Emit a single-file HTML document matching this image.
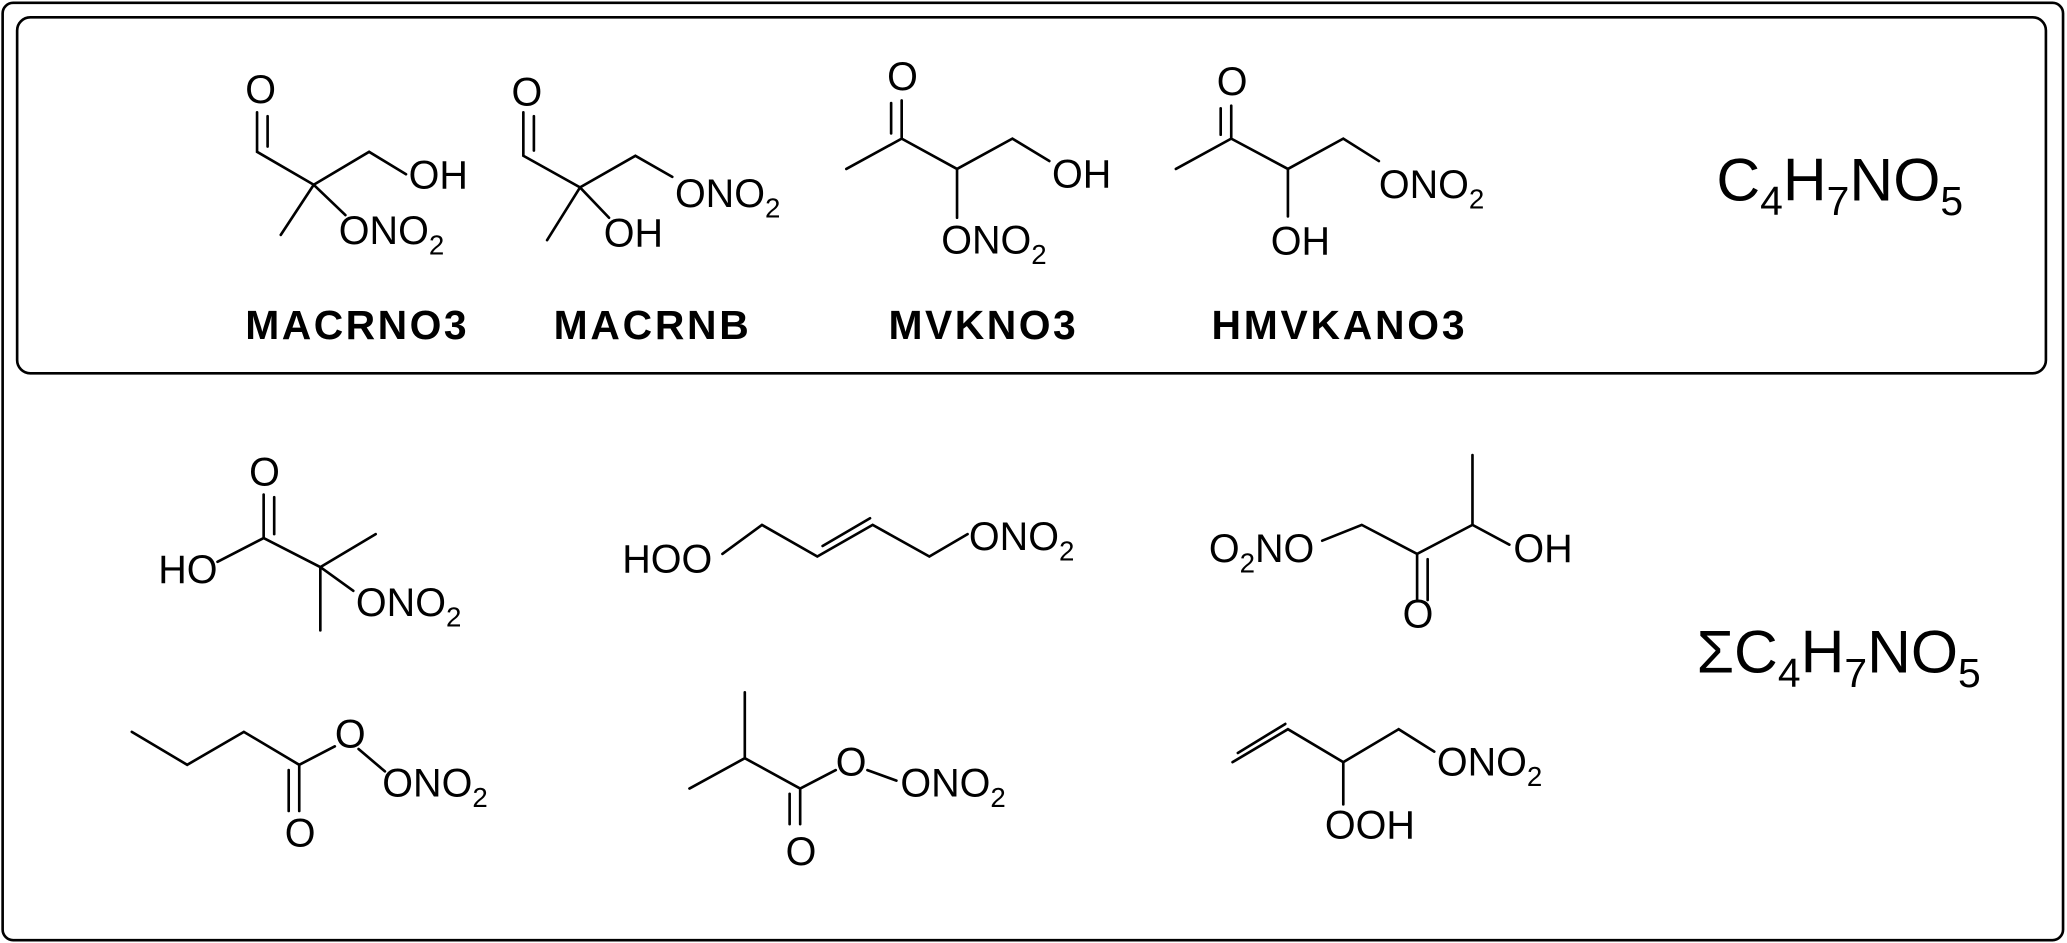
<!DOCTYPE html>
<html><head><meta charset="utf-8"><style>
html,body{margin:0;padding:0;background:#fff;}
svg{display:block;}
text{font-family:"Liberation Sans",Arial,sans-serif;fill:#000;}
.a{font-size:30px;}
.b{font-size:31px;font-weight:bold;text-anchor:middle;}
.s{font-size:21px;}
</style></head><body>
<svg width="2067" height="943" viewBox="0 0 1568 715" xmlns="http://www.w3.org/2000/svg">
<rect x="2" y="2" width="1563" height="711" rx="8" fill="none" stroke="#000" stroke-width="2"/>
<rect x="13" y="13" width="1539" height="270" rx="10" fill="none" stroke="#000" stroke-width="2"/>
<g stroke="#000" stroke-width="2" fill="none" stroke-linecap="round">
<path d="M195 85 L195 115 L238 140 L280 115 L308 132 M238 140 L213 178 M238 140 L262 163"/>
<path d="M203 88 L203 111"/>
<path d="M397 85 L397 118 L440 142 L482 118 L510 134 M440 142 L415 182 M440 142 L462 165"/>
<path d="M405 88 L405 114"/>
<path d="M684 76 L684 105 L642 128 M684 105 L726 128 L768 105 L796 122 M726 128 L726 165"/>
<path d="M676 78 L676 101"/>
<path d="M934 80 L934 105 L892 128 M934 105 L977 128 L1019 105 L1046 122 M977 128 L977 164"/>
<path d="M926 82 L926 102"/>
<path d="M200 375 L200 408 L243 430 L285 405 M243 430 L243 478 M243 430 L268 448 M200 408 L165 426"/>
<path d="M208 377 L208 405"/>
<path d="M548 420 L578 398 L620 422 L662 398 L705 422 L734 405 M624 414 L660 393"/>
<path d="M1003 410 L1033 398 L1075 420 L1117 398 L1117 345 M1117 398 L1145 413 M1075 420 L1075 455 M1083 424 L1083 455"/>
<path d="M100 555 L142 580 L185 555 L227 580 L227 615 M219 584 L219 615 M227 580 L254 566 M272 568 L292 585"/>
<path d="M565 525 L565 575 L523 598 M565 575 L607 598 L607 625 M599 602 L599 625 M607 598 L634 584 M658 584 L680 592"/>
<path d="M935 578 L977 553 L1019 578 L1061 553 L1088 570 M939 571 L975 549 M1019 578 L1019 610"/>
</g>
<g class="a">
<text x="186" y="78">O</text>
<text x="310" y="143">OH</text>
<text x="257" y="185">ONO<tspan class="s" dy="8">2</tspan></text>
<text x="388" y="80">O</text>
<text x="512" y="157">ONO<tspan class="s" dy="8">2</tspan></text>
<text x="458" y="187">OH</text>
<text x="673" y="68">O</text>
<text x="798" y="142">OH</text>
<text x="714" y="192">ONO<tspan class="s" dy="8">2</tspan></text>
<text x="923" y="72">O</text>
<text x="1046" y="150">ONO<tspan class="s" dy="8">2</tspan></text>
<text x="964" y="193">OH</text>
<text x="189" y="368">O</text>
<text x="120" y="442">HO</text>
<text x="270" y="467">ONO<tspan class="s" dy="8">2</tspan></text>
<text x="472" y="434">HOO</text>
<text x="735" y="417">ONO<tspan class="s" dy="8">2</tspan></text>
<text x="917" y="426">O<tspan class="s" dy="8">2</tspan><tspan dy="-8">NO</tspan></text>
<text x="1148" y="426">OH</text>
<text x="1064" y="476">O</text>
<text x="254" y="567">O</text>
<text x="290" y="604">ONO<tspan class="s" dy="8">2</tspan></text>
<text x="216" y="642">O</text>
<text x="634" y="588">O</text>
<text x="683" y="604">ONO<tspan class="s" dy="8">2</tspan></text>
<text x="596" y="656">O</text>
<text x="1090" y="588">ONO<tspan class="s" dy="8">2</tspan></text>
<text x="1005" y="636">OOH</text>
</g>
<text class="b" x="270" y="257" textLength="168">MACRNO3</text>
<text class="b" x="494" y="257" textLength="148">MACRNB</text>
<text class="b" x="745" y="257" textLength="142">MVKNO3</text>
<text class="b" x="1015" y="257" textLength="192">HMVKANO3</text>
<text x="1302" y="152" style="font-size:46px">C<tspan style="font-size:31px" dy="11">4</tspan><tspan dy="-11">H</tspan><tspan style="font-size:31px" dy="11">7</tspan><tspan dy="-11">NO</tspan><tspan style="font-size:31px" dy="11">5</tspan></text>
<text x="1287" y="510" style="font-size:46px">ΣC<tspan style="font-size:31px" dy="11">4</tspan><tspan dy="-11">H</tspan><tspan style="font-size:31px" dy="11">7</tspan><tspan dy="-11">NO</tspan><tspan style="font-size:31px" dy="11">5</tspan></text>
</svg>
</body></html>
